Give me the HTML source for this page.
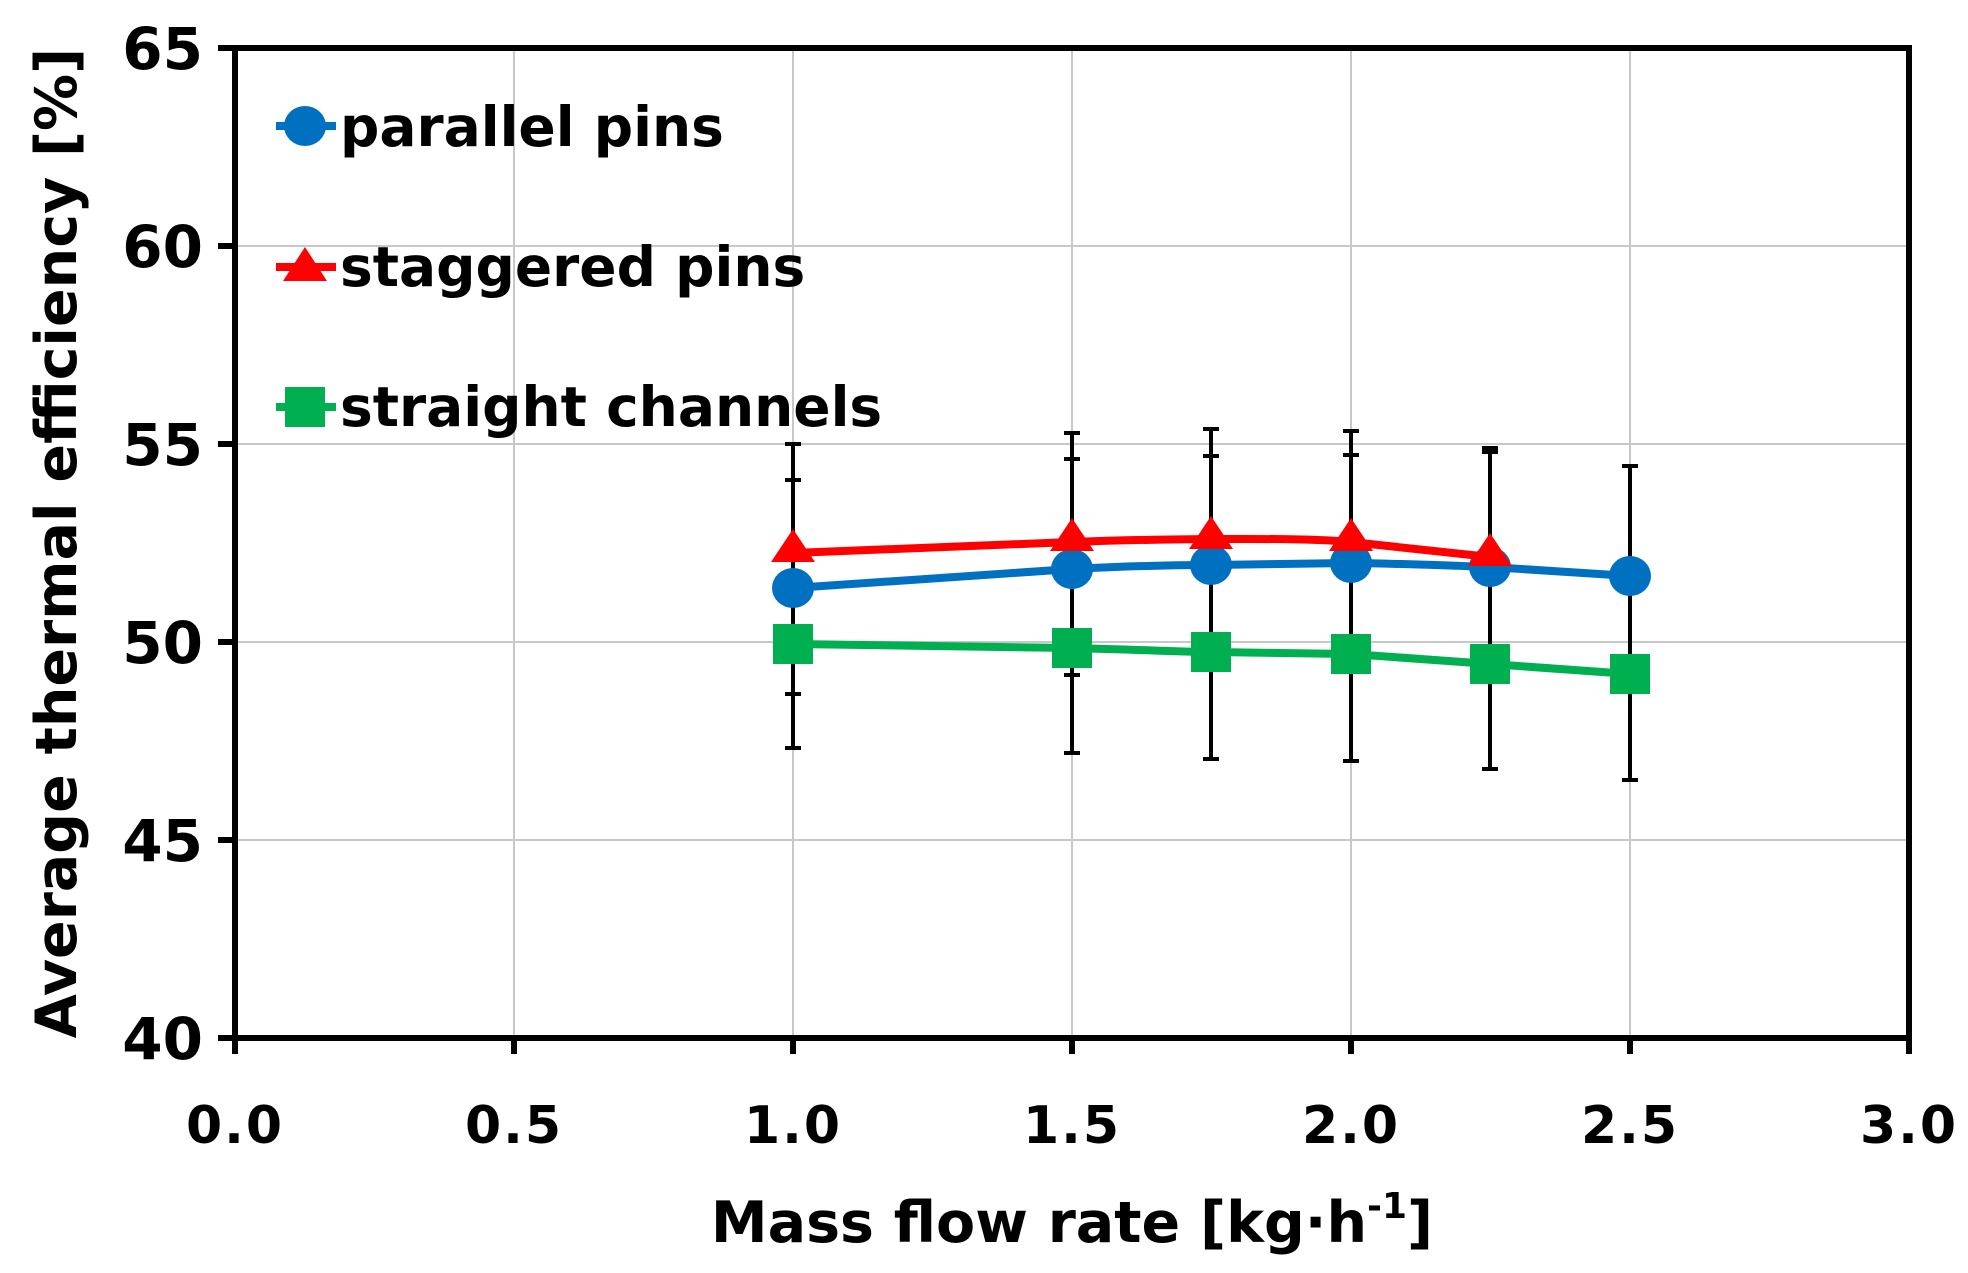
<!DOCTYPE html>
<html><head><meta charset="utf-8"><style>html,body{margin:0;padding:0;background:#fff}svg{display:block}</style></head><body>
<svg width="1968" height="1273" viewBox="0 0 1968 1273" xmlns="http://www.w3.org/2000/svg" font-family="'DejaVu Sans','Liberation Sans',sans-serif" font-weight="bold">
<g stroke="#c8c8c8" stroke-width="2">
<line x1="235" y1="246" x2="1909" y2="246"/><line x1="235" y1="444" x2="1909" y2="444"/><line x1="235" y1="642" x2="1909" y2="642"/><line x1="235" y1="840" x2="1909" y2="840"/>
<line x1="514" y1="48" x2="514" y2="1038"/><line x1="793" y1="48" x2="793" y2="1038"/><line x1="1072" y1="48" x2="1072" y2="1038"/><line x1="1351" y1="48" x2="1351" y2="1038"/><line x1="1630" y1="48" x2="1630" y2="1038"/>
</g>
<rect x="235" y="48" width="1674" height="990" fill="none" stroke="#000" stroke-width="6"/>
<g stroke="#000" stroke-width="6">
<line x1="218" y1="48" x2="235" y2="48"/><line x1="218" y1="246" x2="235" y2="246"/><line x1="218" y1="444" x2="235" y2="444"/><line x1="218" y1="642" x2="235" y2="642"/><line x1="218" y1="840" x2="235" y2="840"/><line x1="218" y1="1038" x2="235" y2="1038"/>
<line x1="235" y1="1038" x2="235" y2="1054"/><line x1="514" y1="1038" x2="514" y2="1054"/><line x1="793" y1="1038" x2="793" y2="1054"/><line x1="1072" y1="1038" x2="1072" y2="1054"/><line x1="1351" y1="1038" x2="1351" y2="1054"/><line x1="1630" y1="1038" x2="1630" y2="1054"/><line x1="1909" y1="1038" x2="1909" y2="1054"/>
</g>
<g font-size="58" text-anchor="end" fill="#000">
<text x="203" y="69">65</text><text x="203" y="267">60</text><text x="203" y="465">55</text><text x="203" y="663">50</text><text x="203" y="861">45</text><text x="203" y="1059">40</text>
</g>
<g font-size="52" text-anchor="middle" fill="#000" letter-spacing="2">
<text x="235" y="1143">0.0</text><text x="514" y="1143">0.5</text><text x="793" y="1143">1.0</text><text x="1072" y="1143">1.5</text><text x="1351" y="1143">2.0</text><text x="1630" y="1143">2.5</text><text x="1909" y="1143">3.0</text>
</g>
<text x="1072" y="1242" font-size="57" text-anchor="middle">Mass flow rate [kg·h<tspan font-size="36" dy="-24">-1</tspan><tspan dy="24">]</tspan></text>
<text transform="translate(76,543) rotate(-90)" font-size="57" text-anchor="middle">Average thermal efficiency [%]</text>
<g stroke="#000" stroke-width="4">
<line x1="793" y1="444" x2="793" y2="748"/><line x1="785" y1="444" x2="801" y2="444"/><line x1="785" y1="480" x2="801" y2="480"/><line x1="785" y1="748" x2="801" y2="748"/><line x1="785" y1="694" x2="801" y2="694"/>
<line x1="1072" y1="433" x2="1072" y2="753"/><line x1="1064" y1="433" x2="1080" y2="433"/><line x1="1064" y1="459" x2="1080" y2="459"/><line x1="1064" y1="753" x2="1080" y2="753"/><line x1="1064" y1="675" x2="1080" y2="675"/>
<line x1="1211" y1="429" x2="1211" y2="759"/><line x1="1203" y1="429" x2="1219" y2="429"/><line x1="1203" y1="456" x2="1219" y2="456"/><line x1="1203" y1="759" x2="1219" y2="759"/>
<line x1="1351" y1="431" x2="1351" y2="761"/><line x1="1343" y1="431" x2="1359" y2="431"/><line x1="1343" y1="455" x2="1359" y2="455"/><line x1="1343" y1="761" x2="1359" y2="761"/>
<line x1="1490" y1="448" x2="1490" y2="769"/><line x1="1482" y1="448" x2="1498" y2="448"/><line x1="1482" y1="452" x2="1498" y2="452"/><line x1="1482" y1="769" x2="1498" y2="769"/>
<line x1="1630" y1="466" x2="1630" y2="780"/><line x1="1622" y1="466" x2="1638" y2="466"/><line x1="1622" y1="780" x2="1638" y2="780"/>
</g>
<path d="M793,644 L1072,648 C1150,650 1180,652 1211,652 L1351,654 L1490,664 L1630,674" fill="none" stroke="#00b050" stroke-width="8"/>
<g fill="#00b050"><rect x="773" y="624" width="40" height="40"/><rect x="1052" y="628" width="40" height="40"/><rect x="1191" y="632" width="40" height="40"/><rect x="1331" y="634" width="40" height="40"/><rect x="1470" y="644" width="40" height="40"/><rect x="1610" y="654" width="40" height="40"/></g>
<path d="M793,588 L1072,569 C1130,566 1170,565 1211,565 L1351,563 C1420,564 1460,566 1490,567 L1630,576" fill="none" stroke="#0070c0" stroke-width="8"/>
<g fill="#0070c0"><ellipse cx="793" cy="588" rx="21" ry="20"/><ellipse cx="1072" cy="569" rx="21" ry="20"/><ellipse cx="1211" cy="565" rx="21" ry="20"/><ellipse cx="1351" cy="563" rx="21" ry="20"/><ellipse cx="1490" cy="567" rx="21" ry="20"/><ellipse cx="1630" cy="576" rx="21" ry="20"/></g>
<path d="M793,553 L1072,542 C1150,539 1300,537 1351,542 L1490,557" fill="none" stroke="#ff0000" stroke-width="8"/>
<g fill="#ff0000"><polygon points="793,529 815,562 771,562"/><polygon points="1072,518 1094,551 1050,551"/><polygon points="1211,516 1233,549 1189,549"/><polygon points="1351,518 1373,551 1329,551"/><polygon points="1490,533 1512,566 1468,566"/></g>
<line x1="276" y1="126" x2="336" y2="126" stroke="#0070c0" stroke-width="8"/><ellipse cx="305" cy="126" rx="21" ry="20" fill="#0070c0"/>
<line x1="276" y1="267" x2="336" y2="267" stroke="#ff0000" stroke-width="8"/><polygon points="305,247 327,281 283,281" fill="#ff0000"/>
<line x1="276" y1="407" x2="336" y2="407" stroke="#00b050" stroke-width="8"/><rect x="285" y="387" width="40" height="40" fill="#00b050"/>
<g font-size="55" fill="#000">
<text x="340" y="146">parallel pins</text><text x="340" y="286">staggered pins</text><text x="340" y="426">straight channels</text>
</g>
</svg>
</body></html>
